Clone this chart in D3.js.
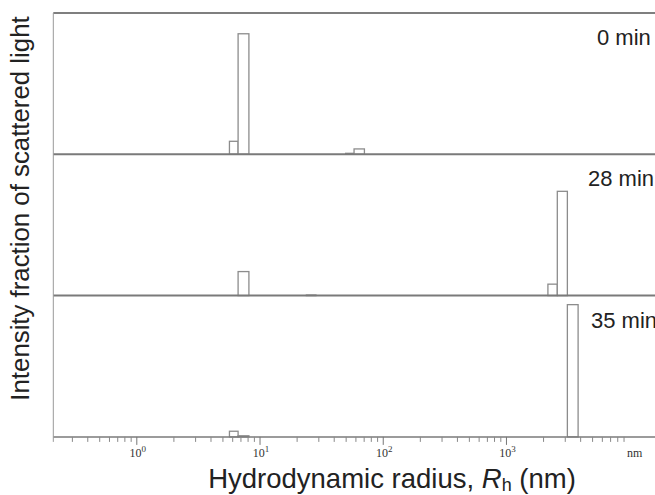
<!DOCTYPE html>
<html>
<head>
<meta charset="utf-8">
<script src="https://cdn.jsdelivr.net/npm/d3@7"></script>
<style>
  body { margin: 0; background: #fff; }
</style>
</head>
<body>
<div id="chart"></div>
<script>
// size bins (nm), shared by all panels
const binLow  = [5.7, 6.7, 24, 50, 58.5, 2190, 2610, 3150];
const binHigh = [6.7, 8.2, 28.7, 58.5, 71, 2610, 3150, 3850];

// intensity fraction per bin
const panels = ["0 min", "28 min", "35 min"];
const int0  = [0.092, 0.853, 0, 0.007, 0.038, 0, 0, 0];
const int28 = [0, 0.17, 0.004, 0, 0, 0.081, 0.738, 0];
const int35 = [0.04, 0.008, 0, 0, 0, 0, 0, 0.936];

const majorTicks = [1, 10, 100, 1000];
const minorTicks = [0.3, 0.4, 0.5, 0.6, 0.7, 0.8, 0.9,
  2, 3, 4, 5, 6, 7, 8, 9,
  20, 30, 40, 50, 60, 70, 80, 90,
  200, 300, 400, 500, 600, 700, 800, 900,
  2000, 3000, 4000, 5000, 6000, 7000, 8000, 9000];
const exponents = ["0", "1", "2", "3"];

const width = 655;
const height = 495;
const margin = { top: 13, left: 53.3 };
const panelH = 141.3;

const svg = d3.select("#chart")
  .append("svg")
    .attr("width", width)
    .attr("height", height);

// create scales

const x = d3.scaleLog()
    .domain([0.212, 16200])
    .range([margin.left, width]);

const series = [int0, int28, int35];
const labelX = [597, 588, 591];

series.forEach((vals, i) => {
  const y0 = margin.top + panelH * i;
  const y = d3.scaleLinear()
      .domain([0, 1])
      .range([y0 + panelH, y0]);

  const g = svg.append("g");

  const bins = vals.map((v, j) => ({ lo: binLow[j], hi: binHigh[j], v: v }))
    .filter(d => d.v > 0);

  // draw bars

  g.selectAll("rect")
    .data(bins)
    .join("rect")
      .attr("x", d => x(d.lo))
      .attr("y", d => y(d.v))
      .attr("width", d => x(d.hi) - x(d.lo))
      .attr("height", d => y(0) - y(d.v))
      .attr("fill", "#fff")
      .attr("stroke", "#8c8c8c")
      .attr("stroke-width", 1.3);

  // baseline
  g.append("line")
      .attr("x1", margin.left)
      .attr("x2", width)
      .attr("y1", y(0))
      .attr("y2", y(0))
      .attr("stroke", "#7a7a7a")
      .attr("stroke-width", i < 2 ? 2 : 1.5);

  g.append("text")
      .attr("x", labelX[i])
      .attr("y", y0 + 32)
      .attr("font-family", "Liberation Sans, Arial, sans-serif")
      .attr("font-size", "22px")
      .attr("fill", "#222")
      .text(panels[i]);
});

// frame

svg.append("line")
    .attr("x1", margin.left)
    .attr("x2", width)
    .attr("y1", margin.top)
    .attr("y2", margin.top)
    .attr("stroke", "#555")
    .attr("stroke-width", 1.5);

svg.append("line")
    .attr("x1", margin.left)
    .attr("x2", margin.left)
    .attr("y1", margin.top)
    .attr("y2", margin.top + panelH * 3 + 5)
    .attr("stroke", "#999")
    .attr("stroke-width", 1);

// x axis

const axisY = margin.top + panelH * 3;

svg.append("g")
    .attr("transform", `translate(0, ${axisY})`)
    .call(d3.axisBottom(x).tickValues(minorTicks).tickSize(5).tickFormat(""))
    .call(g => g.select(".domain").remove())
    .call(g => g.selectAll("line").attr("stroke", "#888"));

const major = svg.append("g")
    .attr("transform", `translate(0, ${axisY})`)
    .call(d3.axisBottom(x).tickValues(majorTicks).tickSize(8).tickFormat(""))
    .call(g => g.select(".domain").remove())
    .call(g => g.selectAll("line").attr("stroke", "#777"));

major.selectAll(".tick text").remove();
major.selectAll(".tick")
  .append("text")
    .attr("y", 20)
    .attr("x", 1)
    .attr("text-anchor", "middle")
    .attr("fill", "#333")
    .attr("font-family", "Liberation Serif, Times New Roman, serif")
    .attr("font-size", "12px")
    .call(t => t.append("tspan").text("10"))
    .call(t => t.append("tspan")
        .attr("dy", -5)
        .attr("font-size", "9px")
        .text((d, i) => exponents[i]));

svg.append("text")
    .attr("x", 627)
    .attr("y", axisY + 20)
    .attr("fill", "#333")
    .attr("font-family", "Liberation Serif, Times New Roman, serif")
    .attr("font-size", "12px")
    .text("nm");

// axis titles

svg.append("text")
    .attr("x", 392)
    .attr("y", 488)
    .attr("text-anchor", "middle")
    .attr("font-family", "Liberation Sans, Arial, sans-serif")
    .attr("font-size", "27.5px")
    .attr("fill", "#222")
    .call(t => t.append("tspan").text("Hydrodynamic radius, "))
    .call(t => t.append("tspan").attr("font-style", "italic").text("R"))
    .call(t => t.append("tspan").attr("font-size", "18px").attr("dy", 3).text("h"))
    .call(t => t.append("tspan").attr("dy", -3).text(" (nm)"));

svg.append("text")
    .attr("transform", "translate(29, 208.5) rotate(-90)")
    .attr("text-anchor", "middle")
    .attr("font-family", "Liberation Sans, Arial, sans-serif")
    .attr("font-size", "25.8px")
    .attr("fill", "#222")
    .text("Intensity fraction of scattered light");
</script>
</body>
</html>
